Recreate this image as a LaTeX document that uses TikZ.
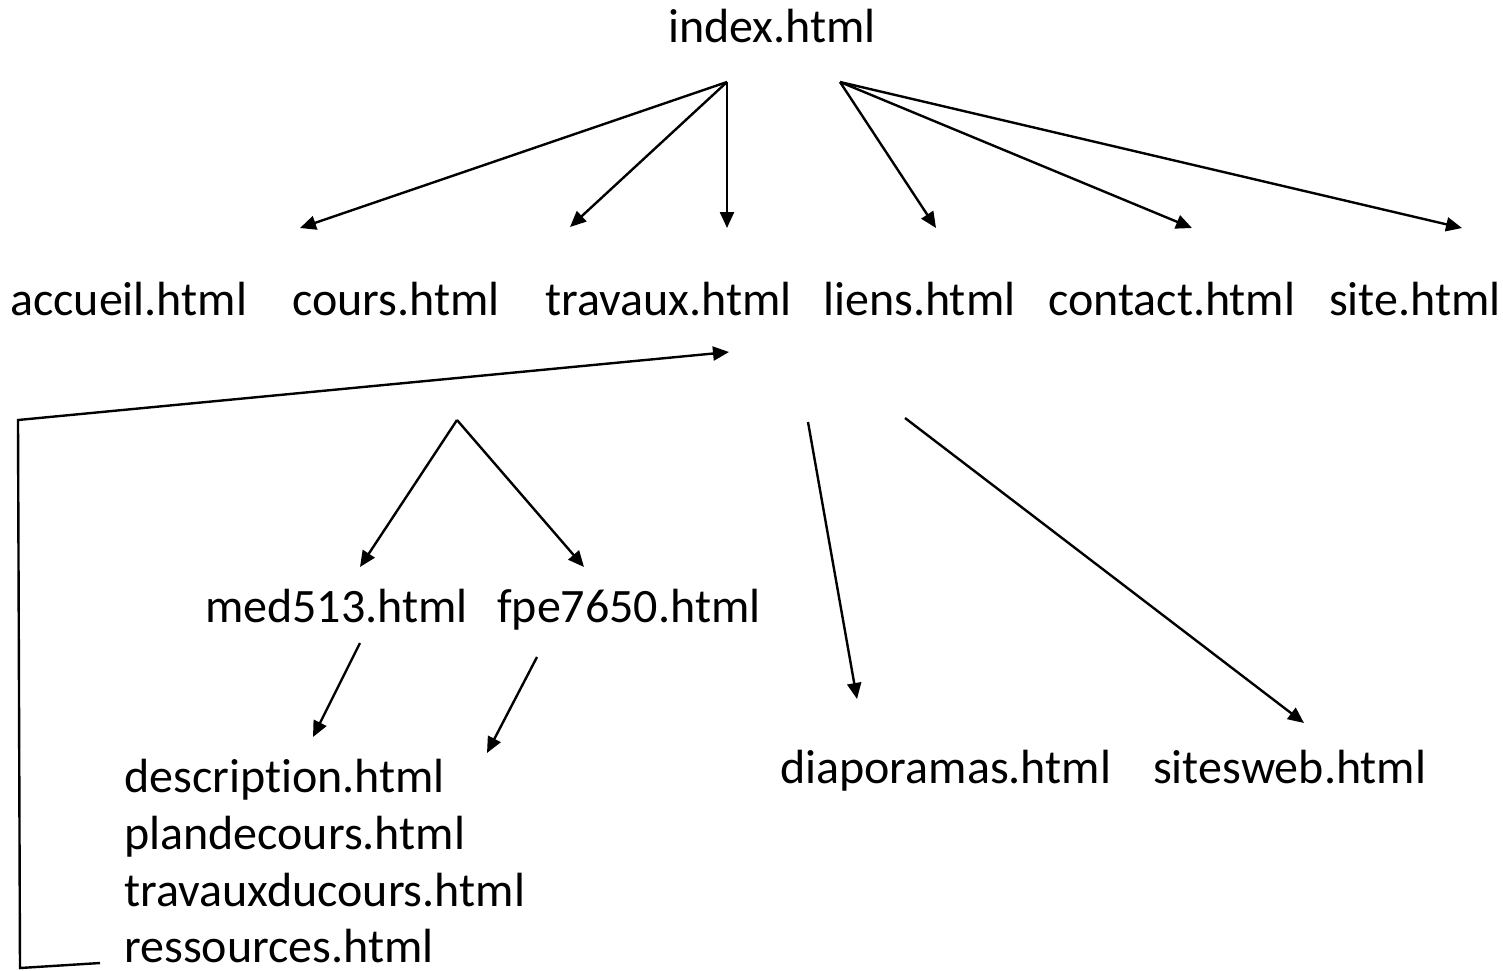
\documentclass[tikz,border=0pt]{standalone}
\usepackage{fontspec}
\setmainfont{Carlito}[Ligatures={NoCommon,NoDiscretionary}]
\usetikzlibrary{arrows.meta}
\begin{document}
\begin{tikzpicture}[x=1pt,y=-1pt,
  lbl/.style={inner sep=0pt,anchor=base west,font=\fontsize{48}{57}\selectfont},
  link/.style={line width=2.4pt,-{Triangle[length=16pt,width=14pt]}}]
\useasboundingbox (0,0) rectangle (1503,970);
% labels
\node[lbl] (index) at (668,42) {index.html};
\node[lbl] (accueil) at (10,315) {accueil.html};
\node[lbl] (cours) at (292,315) {cours.html};
\node[lbl] (travaux) at (545,315) {travaux.html};
\node[lbl] (liens) at (823,315) {liens.html};
\node[lbl] (contact) at (1048,315) {contact.html};
\node[lbl] (site) at (1329,315) {site.html};
\node[lbl] (med) at (205,622) {med513.html};
\node[lbl] (fpe) at (497,622) {fpe7650.html};
\node[lbl] (diapo) at (780,783) {diaporamas.html};
\node[lbl] (sitesweb) at (1153,783) {sitesweb.html};
\node[lbl] (descr) at (124,792) {description.html};
\node[lbl] (plan) at (124,849) {plandecours.html};
\node[lbl] (travc) at (124,906) {travauxducours.html};
\node[lbl,text depth=0pt] (ress) at (124,962) {ressources.html};
% connector end points
\coordinate (iL) at (727,82);
\coordinate (iR) at (840,82);
\coordinate (aT) at (300,228);
\coordinate (cT) at (570,227);
\coordinate (tT) at (727,228);
\coordinate (lT) at (936,228);
\coordinate (coT) at (1192,228);
\coordinate (sT) at (1462,228);
\coordinate (rA) at (100,963);
\coordinate (rB) at (20,968);
\coordinate (rC) at (18,420);
\coordinate (tB) at (729,352);
\coordinate (cB) at (457,420);
\coordinate (mT) at (360,567);
\coordinate (fT) at (584,567);
\coordinate (lB1) at (808,422);
\coordinate (dT) at (857,699);
\coordinate (lB2) at (905,418);
\coordinate (swT) at (1304,723);
\coordinate (mB) at (360,643);
\coordinate (d1) at (313,737);
\coordinate (fB) at (537,657);
\coordinate (d2) at (487,753);
% connectors
\draw[link] (iL) -- (aT);
\draw[link] (iL) -- (cT);
\draw[link] (iL) -- (tT);
\draw[link] (iR) -- (lT);
\draw[link] (iR) -- (coT);
\draw[link] (iR) -- (sT);
\draw[link] (rA) -- (rB) -- (rC) -- (tB);
\draw[link] (cB) -- (mT);
\draw[link] (cB) -- (fT);
\draw[link] (lB1) -- (dT);
\draw[link] (lB2) -- (swT);
\draw[link] (mB) -- (d1);
\draw[link] (fB) -- (d2);
\end{tikzpicture}
\end{document}
